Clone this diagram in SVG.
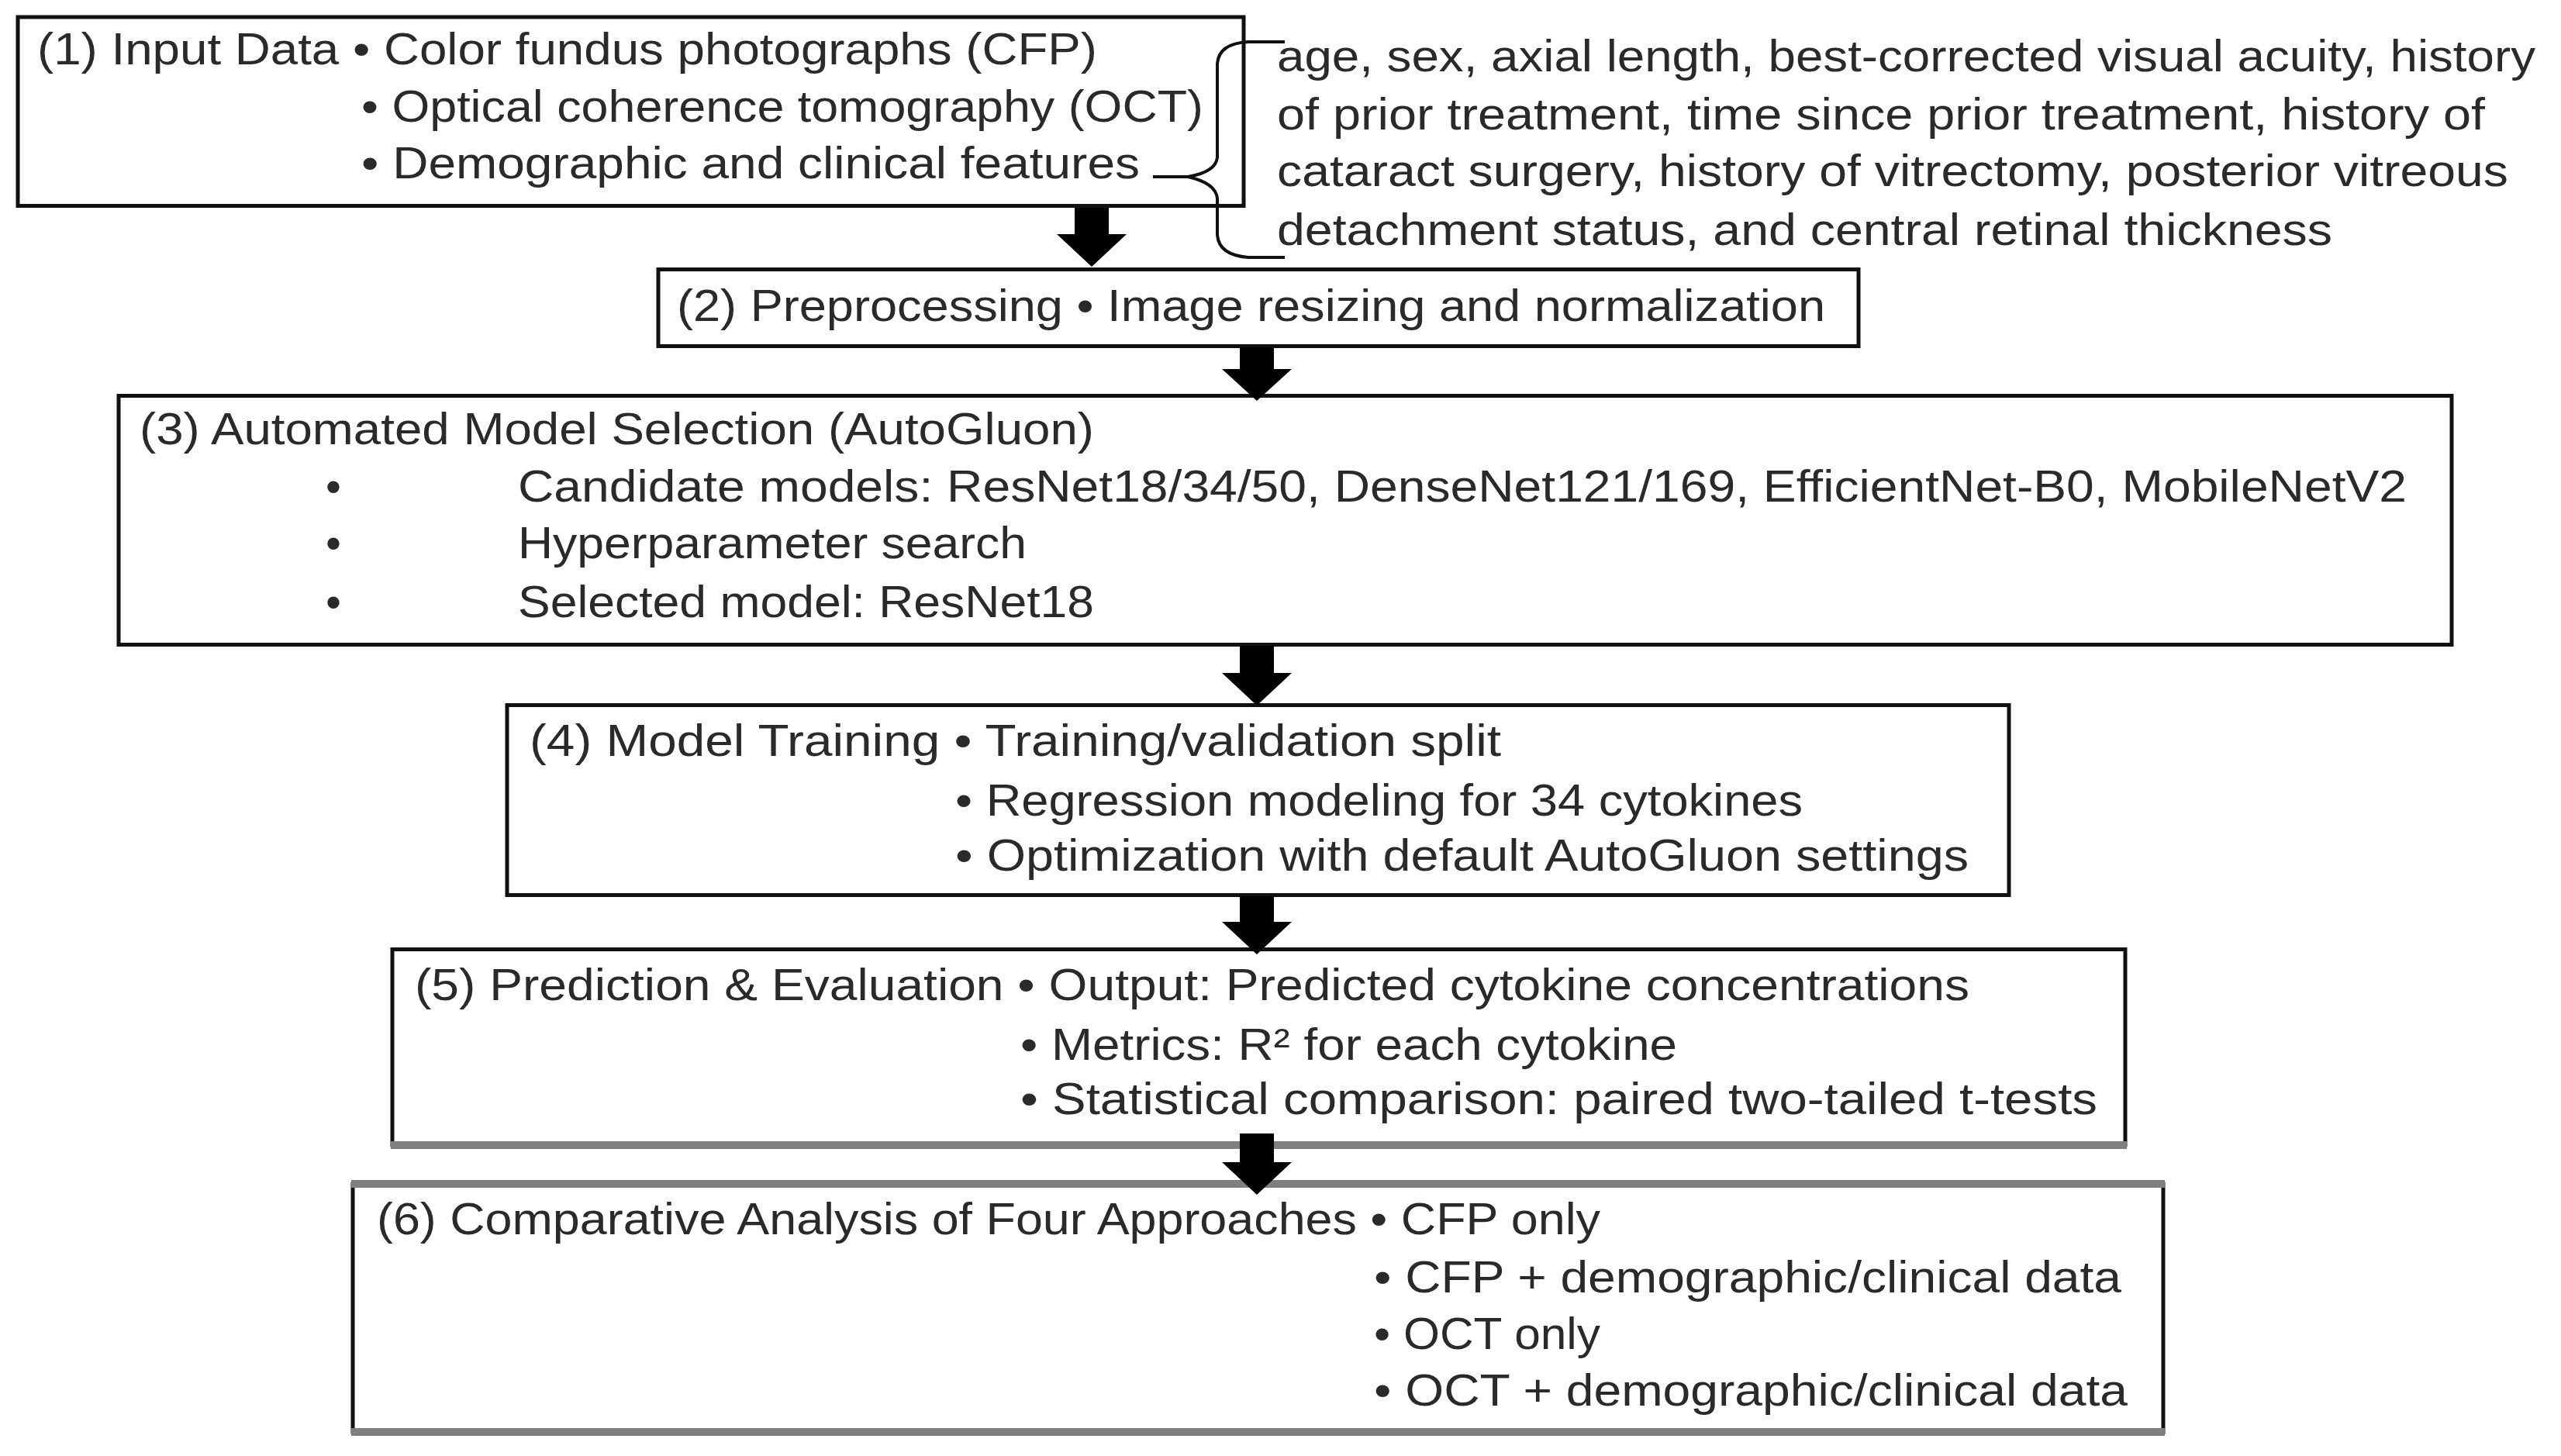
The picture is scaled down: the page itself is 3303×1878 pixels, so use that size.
<svg xmlns="http://www.w3.org/2000/svg" width="3303" height="1878" viewBox="0 0 3303 1878">
<style>
.bg{fill:#fff}
.box{fill:#fff;stroke:#111;stroke-width:5}
.gband{stroke:#7f7f7f;stroke-width:10;fill:none}
.t{font-family:"Liberation Sans","Noto Sans",Arial,sans-serif;font-size:57px;fill:#2a2a2a}
.arrow{fill:#000}
.brace{fill:none;stroke:#111;stroke-width:4;stroke-linejoin:round}
</style>
<rect class="bg" x="0" y="0" width="3303" height="1878"/>
<g id="node1">
<rect class="box" x="23" y="22" width="1581" height="243.5"/>
<text class="t" x="48" y="83" textLength="1367" lengthAdjust="spacingAndGlyphs">(1) Input Data • Color fundus photographs (CFP)</text>
<text class="t" x="466" y="157" textLength="1086" lengthAdjust="spacingAndGlyphs">• Optical coherence tomography (OCT)</text>
<text class="t" x="466" y="230" textLength="1004" lengthAdjust="spacingAndGlyphs">• Demographic and clinical features</text>
</g>
<g id="note1">
<path class="brace" d="M1657,54 L1610,54 Q1572,56 1570,82 L1570,203 Q1568,222 1532,228 L1487,228 M1532,228 Q1568,236 1570,256 L1570,303 Q1572,329 1610,332 L1657,332"/>
<text class="t" x="1647" y="92" textLength="1623" lengthAdjust="spacingAndGlyphs">age, sex, axial length, best-corrected visual acuity, history</text>
<text class="t" x="1647" y="167" textLength="1558" lengthAdjust="spacingAndGlyphs">of prior treatment, time since prior treatment, history of</text>
<text class="t" x="1647" y="240" textLength="1588" lengthAdjust="spacingAndGlyphs">cataract surgery, history of vitrectomy, posterior vitreous</text>
<text class="t" x="1647" y="316" textLength="1361" lengthAdjust="spacingAndGlyphs">detachment status, and central retinal thickness</text>
</g>
<g id="node2">
<rect class="box" x="849" y="347.5" width="1548" height="99"/>
<text class="t" x="873" y="414" textLength="1481" lengthAdjust="spacingAndGlyphs">(2) Preprocessing • Image resizing and normalization</text>
</g>
<g id="node3">
<rect class="box" x="153" y="510.5" width="3009" height="321"/>
<text class="t" x="180" y="573" textLength="1231" lengthAdjust="spacingAndGlyphs">(3) Automated Model Selection (AutoGluon)</text>
<text class="t" x="430" y="647" text-anchor="middle">•</text>
<text class="t" x="430" y="720" text-anchor="middle">•</text>
<text class="t" x="430" y="796" text-anchor="middle">•</text>
<text class="t" x="668" y="647" textLength="2436" lengthAdjust="spacingAndGlyphs">Candidate models: ResNet18/34/50, DenseNet121/169, EfficientNet-B0, MobileNetV2</text>
<text class="t" x="668" y="720" textLength="656" lengthAdjust="spacingAndGlyphs">Hyperparameter search</text>
<text class="t" x="668" y="796" textLength="743" lengthAdjust="spacingAndGlyphs">Selected model: ResNet18</text>
</g>
<g id="node4">
<rect class="box" x="654" y="909.5" width="1937" height="245"/>
<text class="t" x="683" y="975" textLength="1253" lengthAdjust="spacingAndGlyphs">(4) Model Training • Training/validation split</text>
<text class="t" x="1232" y="1052" textLength="1093" lengthAdjust="spacingAndGlyphs">• Regression modeling for 34 cytokines</text>
<text class="t" x="1232" y="1123" textLength="1307" lengthAdjust="spacingAndGlyphs">• Optimization with default AutoGluon settings</text>
</g>
<g id="node5">
<rect class="box" x="506" y="1224.5" width="2235" height="252.5"/>
<line class="gband" x1="504" y1="1477" x2="2743" y2="1477"/>
<text class="t" x="535" y="1290" textLength="2005" lengthAdjust="spacingAndGlyphs">(5) Prediction &amp; Evaluation • Output: Predicted cytokine concentrations</text>
<text class="t" x="1316" y="1367" textLength="847" lengthAdjust="spacingAndGlyphs">• Metrics: R² for each cytokine</text>
<text class="t" x="1316" y="1437" textLength="1389" lengthAdjust="spacingAndGlyphs">• Statistical comparison: paired two-tailed t-tests</text>
</g>
<g id="node6">
<rect class="box" x="455" y="1527" width="2335" height="320"/>
<line class="gband" x1="453" y1="1527" x2="2792" y2="1527"/>
<line class="gband" x1="453" y1="1847" x2="2792" y2="1847"/>
<text class="t" x="486" y="1592" textLength="1578" lengthAdjust="spacingAndGlyphs">(6) Comparative Analysis of Four Approaches • CFP only</text>
<text class="t" x="1772" y="1667" textLength="964" lengthAdjust="spacingAndGlyphs">• CFP + demographic/clinical data</text>
<text class="t" x="1772" y="1740" textLength="292" lengthAdjust="spacingAndGlyphs">• OCT only</text>
<text class="t" x="1772" y="1813" textLength="972" lengthAdjust="spacingAndGlyphs">• OCT + demographic/clinical data</text>
</g>
<g id="connectors">
<polygon class="arrow" points="1386,268 1430,268 1430,302 1453,302 1408,344 1363,302 1386,302"/>
<polygon class="arrow" points="1599,448 1643,448 1643,476 1666,476 1621,517 1576,476 1599,476"/>
<polygon class="arrow" points="1599,833 1643,833 1643,868 1666,868 1621,910 1576,868 1599,868"/>
<polygon class="arrow" points="1599,1156 1643,1156 1643,1189 1666,1189 1621,1231 1576,1189 1599,1189"/>
<polygon class="arrow" points="1599,1462 1643,1462 1643,1499 1666,1499 1621,1541 1576,1499 1599,1499"/>
</g>
</svg>
